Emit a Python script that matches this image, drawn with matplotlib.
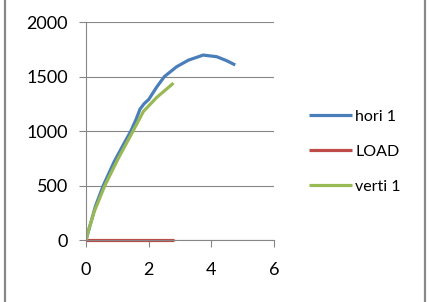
import matplotlib
matplotlib.use("Agg")
import matplotlib.pyplot as plt
from matplotlib.lines import Line2D

hori_x = [0, 0.1, 0.3, 0.55, 0.9, 1.2, 1.43, 1.6, 1.72, 1.85, 2.0, 2.26, 2.5, 2.89, 3.27, 3.74, 4.17, 4.49, 4.76]
hori_y = [0, 105, 310, 500, 720, 880, 1000, 1110, 1200, 1250, 1290, 1406, 1500, 1590, 1651, 1697, 1682, 1645, 1606]
load_x = [0, 2.8]
load_y = [0, 0]
verti_x = [0, 0.1, 0.26, 0.6, 1.03, 1.5, 1.83, 2.26, 2.79]
verti_y = [0, 110, 260, 500, 750, 1000, 1180, 1310, 1440]

fig = plt.figure(figsize=(4.29, 3.02), dpi=100)
ax = fig.add_axes([0.2005, 0.205, 0.4385, 0.722])

ax.plot(hori_x, hori_y, color="#4A7EBB", lw=2.3, label="hori 1", solid_capstyle="butt")
ax.plot(load_x, load_y, color="#BE4B48", lw=2.3, label="LOAD", solid_capstyle="butt", clip_on=False)
ax.plot(verti_x, verti_y, color="#98B954", lw=2.3, label="verti 1", solid_capstyle="butt")

ax.set_xlim(0, 6)
ax.set_ylim(0, 2000)
ax.set_xticks([0, 2, 4, 6])
ax.set_yticks([0, 500, 1000, 1500, 2000])
ax.yaxis.grid(True, color="#868686", lw=0.8)
ax.set_axisbelow(True)
for s in ["top", "right"]:
    ax.spines[s].set_visible(False)
for s in ["left", "bottom"]:
    ax.spines[s].set_color("#868686")
    ax.spines[s].set_linewidth(0.8)
ax.tick_params(axis="both", colors="#868686", length=5, width=0.8, labelcolor="black", labelsize=13)
ax.tick_params(axis="x", pad=11)
ax.tick_params(axis="y", pad=8)
for lab in ax.get_xticklabels() + ax.get_yticklabels():
    lab.set_family("Lato")

leg = fig.legend(loc="upper left", bbox_to_anchor=(0.687, 0.685), frameon=False,
                 prop={"family": "Lato", "size": 11.5}, handlelength=2.7,
                 labelspacing=1.3, handletextpad=0.2)

fig.add_artist(Line2D([4.5/429, 4.5/429], [0, 1], color="#888888", lw=1.6, transform=fig.transFigure))
fig.add_artist(Line2D([424.5/429, 424.5/429], [0, 1], color="#888888", lw=1.6, transform=fig.transFigure))

fig.savefig("out.png", dpi=100)
